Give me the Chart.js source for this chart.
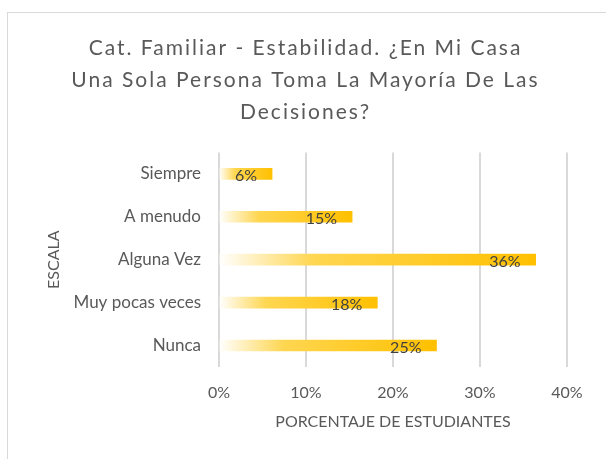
<!DOCTYPE html>
<html>
<head>
<meta charset="utf-8">
<script src="https://cdn.jsdelivr.net/npm/chart.js@4"></script>
<style>
  html, body { margin: 0; padding: 0; background: #fff; }
  #wrap { position: relative; width: 606px; height: 459px; overflow: hidden; }
  #frame { position: absolute; left: 7px; top: 12px; width: 640px; height: 480px; border: 1px solid #d9d9d9; }
  canvas { position: absolute; left: 0; top: 0; }
</style>
</head>
<body>
<div id="wrap">
  <div id="frame"></div>
  <canvas id="chart" width="606" height="459"></canvas>
</div>
<script>
const categories = ['Siempre', 'A menudo', 'Alguna Vez', 'Muy pocas veces', 'Nunca'];
const porcentajes = [6.1, 15.3, 36.4, 18.2, 25.0];
const tickValues = [0, 10, 20, 30, 40];
const titleLines = ['Cat. Familiar - Estabilidad. ¿En Mi Casa', 'Una Sola Persona Toma La Mayoría De Las', 'Decisiones?'];

const fontFamily = 'Lato, "Open Sans", sans-serif';

// gradient from pale on the left to gold at the bar end
function barGradient(context) {
    const chart = context.chart;
    const area = chart.chartArea;
    if (!area) return '#FFC000';
    const x = chart.scales.x;
    const x0 = x.getPixelForValue(0);
    const x1 = x.getPixelForValue(context.raw);
    const g = chart.ctx.createLinearGradient(x0, 0, x1, 0);
    g.addColorStop(0, 'rgba(255,255,255,1)');
    g.addColorStop(0.3, '#FFD650');
    g.addColorStop(1, '#FFC000');
    return g;
}

const labelPlugin = {
    id: 'barLabels',
    afterDatasetsDraw(chart) {
        const ctx = chart.ctx;
        const meta = chart.getDatasetMeta(0);
        ctx.save();
        ctx.font = '16px ' + fontFamily;
        ctx.fillStyle = '#404040';
        ctx.textAlign = 'right';
        ctx.textBaseline = 'middle';
        meta.data.forEach((bar, i) => {
            ctx.fillText(Math.round(porcentajes[i]) + '%', bar.x - 15, bar.y + 2);
        });
        ctx.restore();
    }
};

const ctx = document.getElementById('chart').getContext('2d');
const chart = new Chart(ctx, {
    type: 'bar',
    data: {
        labels: categories,
        datasets: [{
            data: porcentajes,
            backgroundColor: barGradient,
            barThickness: 11,
            borderWidth: 0
        }]
    },
    plugins: [labelPlugin],
    options: {
        indexAxis: 'y',
        responsive: false,
        animation: false,
        layout: { padding: { top: 12, left: 44, right: 39, bottom: 28 } },
        plugins: {
            legend: { display: false },
            tooltip: { enabled: false },
            title: {
                display: true,
                text: titleLines,
                color: '#595959',
                font: { family: fontFamily, size: 21, weight: 'normal', lineHeight: 1.53 },
                padding: { top: 20, bottom: 24 }
            }
        },
        scales: {
            x: {
                min: 0,
                max: 40,
                afterBuildTicks(scale) {
                    scale.ticks = tickValues.map(v => ({ value: v }));
                },
                afterFit(scale) { scale.height = 64; },
                grid: { color: '#d9d9d9', lineWidth: 2, drawTicks: false },
                border: { display: false },
                ticks: {
                    padding: 16,
                    color: '#595959',
                    font: { family: fontFamily, size: 16 },
                    callback: v => v + '%'
                },
                title: {
                    display: true,
                    text: 'PORCENTAJE DE ESTUDIANTES',
                    color: '#595959',
                    font: { family: fontFamily, size: 16 },
                    padding: { top: 8, bottom: 0 }
                }
            },
            y: {
                afterFit(scale) { scale.width = 175; },
                grid: { display: false, drawTicks: false },
                border: { display: false },
                ticks: {
                    padding: 18,
                    color: '#595959',
                    font: { family: fontFamily, size: 17 }
                },
                title: {
                    display: true,
                    text: 'ESCALA',
                    color: '#595959',
                    font: { family: fontFamily, size: 16 },
                    padding: 0
                }
            }
        }
    }
});

// Excel-style spaced title letters
const tb = chart.titleBlock;
const origDraw = tb.draw.bind(tb);
tb.draw = function() {
    chart.ctx.save();
    chart.ctx.letterSpacing = '2px';
    origDraw();
    chart.ctx.restore();
};
chart.draw();
</script>
</body>
</html>
